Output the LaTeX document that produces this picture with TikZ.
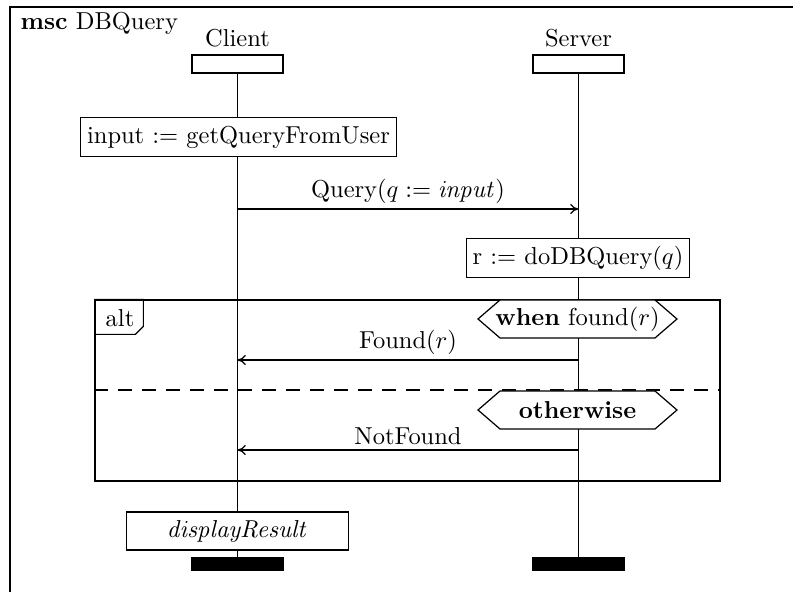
\documentclass[tikz,border=0pt]{standalone}
\usetikzlibrary{arrows.meta}
\newlength\pxu
\setlength\pxu{0.4082pt}
\begin{document}
\begin{tikzpicture}[x=\pxu,y=-\pxu, line width=0.5pt,
  headbox/.style={draw, fill=white, minimum width=91\pxu, minimum height=18\pxu, inner sep=0pt},
  endbox/.style={draw, fill=black, minimum width=91\pxu, minimum height=12\pxu, inner sep=0pt},
  action/.style={draw, fill=white, minimum height=39\pxu, inner xsep=2.6pt, inner ysep=0pt},
  msg/.style={-{Computer Modern Rightarrow[length=3.4pt,width=4.2pt]}},
  condtext/.style={inner sep=0pt},
  cond/.style={draw, fill=white},
  frame/.style={line width=0.8pt}]
\useasboundingbox (0,0) rectangle (793,592);

% outer frame (runs past the page on the right and at the bottom)
\draw[frame] (800,7) -- (10,7) -- (10,600);
\node[anchor=base west, inner sep=0pt] (title) at (20,30) {\textbf{msc} DBQuery};

% instance heads, names and ends
\node[headbox] (ch) at (237.5,64) {};
\node[headbox] (sh) at (578.5,64) {};
\node (cname) at (237.5,38) {Client};
\node (sname) at (578.5,38) {Server};
\node[endbox] (ce) at (237.5,564) {};
\node[endbox] (se) at (578.5,564) {};

% lifelines
\draw (ch.south) -- (ce.north);
\draw (sh.south) -- (se.north);

% local actions
\node[action] (a1) at (238.5,137) {input $:=$ getQueryFromUser};
\node[action] (a2) at (578,258) {r $:=$ doDBQuery$(q)$};

% first message
\coordinate (q1) at (237.5,209);
\coordinate (q2) at (578.5,209);
\draw[msg] (q1) -- node[above, inner sep=2pt] {Query$(q := \mathit{input})$} (q2);

% alternative inline expression
\node[draw, minimum width=625\pxu, minimum height=181\pxu, inner sep=0pt] (alt) at (407.5,390.5) {};
\draw (alt.north west) -- ++(49,0) -- ++(0,27) -- ++(-8,8) -- ++(-41,0);
\node (altlbl) at (120,318) {alt};
\draw[dash pattern=on 14\pxu off 10\pxu] (alt.west |- 0,390) coordinate (d1) -- (alt.east |- 0,390) coordinate (d2);

% guards
\coordinate (g1) at (577.5,319);
\draw[cond, shift={(g1)}] (-77.5,-19) -- (77.5,-19) -- (99.5,0) -- (77.5,19)
  -- (-77.5,19) -- (-99.5,0) -- cycle;
\node[condtext] (g1t) at (g1) {\textbf{when} found$(r)$};
\coordinate (g2) at (577.5,410);
\draw[cond, shift={(g2)}] (-77.5,-19) -- (77.5,-19) -- (99.5,0) -- (77.5,19)
  -- (-77.5,19) -- (-99.5,0) -- cycle;
\node[condtext] (g2t) at (g2) {\textbf{otherwise}};

% replies
\coordinate (f1) at (578.5,360);
\coordinate (f2) at (237.5,360);
\draw[msg] (f1) -- node[above, inner sep=2pt] {Found$(r)$} (f2);
\coordinate (n1) at (578.5,450);
\coordinate (n2) at (237.5,450);
\draw[msg] (n1) -- node[above, inner sep=2pt] {NotFound} (n2);

% final action
\node[action, minimum width=222\pxu, minimum height=38\pxu] (a3) at (237.5,531) {$\mathit{displayResult}$};
\end{tikzpicture}
\end{document}
